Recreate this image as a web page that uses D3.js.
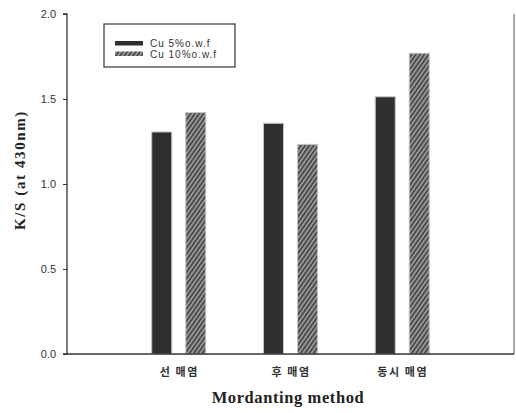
<!DOCTYPE html>
<html>
<head>
<meta charset="utf-8">
<script src="https://cdn.jsdelivr.net/npm/d3@7"></script>
<style>
  html, body { margin: 0; padding: 0; background: #fff; }
  svg { display: block; }
</style>
</head>
<body>
<svg id="chart" width="516" height="413"></svg>
<script>
const categories = ["선 매염", "후 매염", "동시 매염"];
const seriesNames = ["Cu 5%o.w.f", "Cu 10%o.w.f"];
const cu5 = [1.306, 1.357, 1.513];
const cu10 = [1.42, 1.233, 1.769];
const yTicks = [0.0, 0.5, 1.0, 1.5, 2.0];
const yTitle = "K/S (at 430nm)";
const xTitle = "Mordanting method";

(function () {
const svg = d3.select("#chart");
const pLeft = 67, pRight = 514, pTop = 14, pBottom = 354;

const defs = svg.append("defs");
const pat = defs.append("pattern").attr("id", "hatch").attr("patternUnits", "userSpaceOnUse")
  .attr("width", 3.5).attr("height", 4).attr("patternTransform", "rotate(35)");
pat.append("rect").attr("width", 3.5).attr("height", 4).attr("fill", "#9a9a9a");
pat.append("rect").attr("width", 1.8).attr("height", 4).attr("fill", "#4a4a4a");

const x = d3.scalePoint().domain(categories).range([pLeft, pRight]).padding(1);
const xs = d3.scaleBand().domain(seriesNames).range([-27, 27]).paddingInner(0.412).paddingOuter(0);
const y = d3.scaleLinear().domain([0, 2]).range([pBottom, pTop]);

const data = categories.map((c, i) => ({ cat: c, vals: [cu5[i], cu10[i]] }));
const fills = ["#2f2f2f", "url(#hatch)"];

const g = svg.append("g");
data.forEach(d => {
  d.vals.forEach((v, j) => {
    g.append("rect")
      .attr("x", x(d.cat) + xs(seriesNames[j]))
      .attr("y", y(v))
      .attr("width", xs.bandwidth())
      .attr("height", y(0) - y(v))
      .attr("fill", fills[j])
      .attr("stroke", "#c4c4c4")
      .attr("stroke-width", 1);
  });
});

// Y axis
const yAxis = d3.axisLeft(y).tickValues(yTicks).tickFormat(d3.format(".1f")).tickSize(4).tickPadding(7);
const ya = svg.append("g").attr("transform", `translate(${pLeft},0)`).call(yAxis);
ya.select(".domain").attr("stroke", "#333").attr("stroke-width", 1.3).attr("d", `M-4,${pTop}H0V${pBottom}H-4`);
ya.selectAll(".tick line").attr("stroke", "#333");
ya.selectAll(".tick text").attr("font-family", "'Liberation Sans Narrow', 'Liberation Sans', Arial, sans-serif")
  .attr("font-size", 11).attr("fill", "#333");

// X axis
const xAxis = d3.axisBottom(x).tickSize(0).tickPadding(14);
const xa = svg.append("g").attr("transform", `translate(0,${pBottom})`).call(xAxis);
xa.select(".domain").attr("stroke", "#333").attr("stroke-width", 1.6).attr("d", `M${pLeft},0H${pRight}`);
xa.selectAll(".tick text").attr("font-family", "'Noto Sans CJK KR', sans-serif")
  .attr("font-size", 11).attr("font-weight", "bold").attr("fill", "#333")
  .attr("letter-spacing", 1.6);

// right frame line
svg.append("line").attr("x1", pRight).attr("x2", pRight).attr("y1", pTop).attr("y2", pBottom)
  .attr("stroke", "#555").attr("stroke-width", 1);

// titles
svg.append("text").attr("transform", `translate(25,170) rotate(-90)`)
  .attr("text-anchor", "middle").attr("font-family", "'Liberation Serif', 'DejaVu Serif', serif")
  .attr("font-weight", "bold").attr("font-size", 15).attr("letter-spacing", 1.6)
  .attr("fill", "#222").text(yTitle);
svg.append("text").attr("x", 288).attr("y", 403)
  .attr("text-anchor", "middle").attr("font-family", "'Liberation Serif', 'DejaVu Serif', serif")
  .attr("font-weight", "bold").attr("font-size", 16.5).attr("letter-spacing", 0.6)
  .attr("fill", "#222").text(xTitle);

// legend
const lg = svg.append("g");
lg.append("rect").attr("x", 104).attr("y", 24).attr("width", 131).attr("height", 43)
  .attr("fill", "#fff").attr("stroke", "#333").attr("stroke-width", 1.2);
seriesNames.forEach((s, j) => {
  const yy = 41 + j * 10.5;
  lg.append("rect").attr("x", 115).attr("y", yy).attr("width", 28).attr("height", 4.5)
    .attr("fill", fills[j]);
  lg.append("text").attr("x", 150).attr("y", yy + 6)
    .attr("font-family", "'Liberation Sans Narrow', 'Liberation Sans', Arial, sans-serif")
    .attr("font-size", 10).attr("letter-spacing", 1).attr("fill", "#333").text(s);
});
})();
</script>
</body>
</html>
